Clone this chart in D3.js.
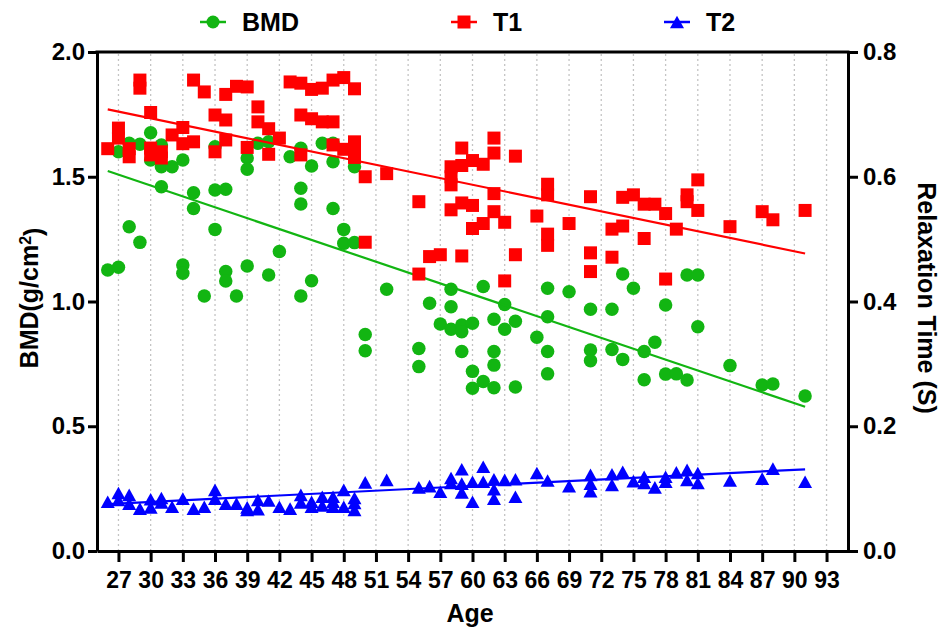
<!DOCTYPE html>
<html>
<head>
<meta charset="utf-8">
<script src="https://cdn.jsdelivr.net/npm/d3@7"></script>
<style>
  body { margin: 0; background: #fff; }
  svg { display: block; font-family: 'Liberation Sans', Arial, sans-serif; font-weight: bold; }
</style>
</head>
<body>
<div id="chart"></div>
<script>
// [age, BMD g/cm2]
const bmdPoints = [
  [26, 1.126], [27, 1.137], [27, 1.6], [28, 1.3], [28, 1.634], [29, 1.237], [29, 1.63],
  [30, 1.676], [30, 1.567], [31, 1.627], [31, 1.54], [31, 1.46], [32, 1.54],
  [33, 1.567], [33, 1.146], [33, 1.113], [34, 1.436], [34, 1.373], [35, 1.022],
  [36, 1.62], [36, 1.447], [36, 1.289], [37, 1.45], [37, 1.12], [37, 1.082], [38, 1.022],
  [39, 1.575], [39, 1.53], [39, 1.142], [40, 1.634], [41, 1.64], [41, 1.106], [42, 1.2],
  [43, 1.58], [44, 1.614], [44, 1.454], [44, 1.391], [44, 1.022], [45, 1.543], [45, 1.083],
  [46, 1.634], [47, 1.634], [47, 1.56], [47, 1.373], [48, 1.289], [48, 1.233], [49, 1.54], [49, 1.236],
  [50, 0.868], [50, 0.803], [52, 1.049], [55, 0.812], [55, 0.739], [56, 0.993], [57, 0.91],
  [58, 1.049], [58, 0.979], [58, 0.889], [59, 0.906], [59, 0.879], [59, 0.8],
  [60, 0.913], [60, 0.72], [60, 0.652], [61, 1.06], [61, 0.679],
  [62, 0.929], [62, 0.8], [62, 0.745], [62, 0.654], [63, 0.988], [63, 0.889], [64, 0.921], [64, 0.657],
  [66, 0.857], [67, 1.053], [67, 0.939], [67, 0.8], [67, 0.71], [69, 1.039],
  [71, 0.969], [71, 0.806], [71, 0.763], [73, 0.969], [73, 0.808], [74, 1.11], [74, 0.768], [75, 1.053],
  [76, 0.8], [76, 0.686], [77, 0.837], [78, 0.986], [78, 0.709], [79, 0.71], [80, 1.106], [80, 0.685],
  [81, 1.106], [81, 0.899], [84, 0.743], [87, 0.665], [88, 0.669], [91, 0.621],
];

// [age, T1 seconds]
const t1Points = [
  [26, 0.645], [27, 0.678], [27, 0.662], [28, 0.645], [28, 0.632], [29, 0.755], [29, 0.742],
  [30, 0.703], [30, 0.646], [30, 0.635], [31, 0.64], [31, 0.63], [32, 0.667], [33, 0.679], [33, 0.653],
  [34, 0.755], [34, 0.656], [35, 0.736], [36, 0.699], [36, 0.64], [37, 0.732], [37, 0.691], [37, 0.659],
  [38, 0.745], [39, 0.744], [39, 0.647], [40, 0.712], [40, 0.688], [41, 0.677], [41, 0.636], [42, 0.662],
  [43, 0.752], [44, 0.75], [44, 0.699], [44, 0.635], [45, 0.74], [45, 0.693], [46, 0.742], [46, 0.688],
  [47, 0.755], [47, 0.688], [47, 0.651], [48, 0.759], [48, 0.644],
  [49, 0.741], [49, 0.656], [49, 0.643], [49, 0.631],
  [50, 0.6], [50, 0.495], [52, 0.605], [55, 0.56], [55, 0.444], [56, 0.472], [57, 0.475],
  [58, 0.616], [58, 0.6], [58, 0.587], [58, 0.547], [59, 0.646], [59, 0.618], [59, 0.558], [59, 0.473],
  [60, 0.626], [60, 0.554], [60, 0.517], [61, 0.62], [61, 0.525],
  [62, 0.662], [62, 0.638], [62, 0.573], [62, 0.544],
  [63, 0.527], [63, 0.433], [64, 0.633], [64, 0.475], [66, 0.537],
  [67, 0.588], [67, 0.571], [67, 0.508], [67, 0.49],
  [69, 0.525], [71, 0.568], [71, 0.478], [71, 0.448], [73, 0.516], [73, 0.471],
  [74, 0.567], [74, 0.521], [75, 0.571],
  [76, 0.556], [76, 0.501], [77, 0.556], [78, 0.541], [78, 0.436], [79, 0.516], [80, 0.571], [80, 0.56],
  [81, 0.595], [81, 0.546], [84, 0.52], [87, 0.544], [88, 0.531], [91, 0.546],
];

// [age, T2 seconds]
const t2Points = [
  [26, 0.079], [27, 0.093], [27, 0.082], [28, 0.09], [28, 0.076], [29, 0.068],
  [30, 0.083], [30, 0.07], [31, 0.085], [31, 0.078], [32, 0.071], [33, 0.084], [34, 0.068], [35, 0.071],
  [36, 0.098], [36, 0.084], [37, 0.076], [38, 0.076], [39, 0.07], [39, 0.066], [40, 0.082], [40, 0.067],
  [41, 0.081], [42, 0.071], [43, 0.068], [44, 0.09], [44, 0.078], [45, 0.079], [45, 0.071],
  [46, 0.087], [46, 0.073], [47, 0.087], [47, 0.079], [47, 0.071], [48, 0.098], [48, 0.071],
  [49, 0.085], [49, 0.077], [49, 0.066], [50, 0.11], [52, 0.114], [55, 0.102], [56, 0.104], [57, 0.095],
  [58, 0.117], [58, 0.109], [59, 0.131], [59, 0.108], [59, 0.094], [60, 0.111], [60, 0.079],
  [61, 0.135], [61, 0.111], [62, 0.115], [62, 0.099], [62, 0.084], [63, 0.114], [64, 0.115], [64, 0.087],
  [66, 0.125], [67, 0.113], [69, 0.104], [71, 0.122], [71, 0.108], [71, 0.096], [73, 0.123], [73, 0.106],
  [74, 0.127], [75, 0.112], [76, 0.119], [76, 0.109], [77, 0.102], [78, 0.119], [78, 0.111], [79, 0.126],
  [80, 0.13], [80, 0.114], [81, 0.125], [81, 0.109], [84, 0.113], [87, 0.116], [88, 0.132], [91, 0.111],
];

// fitted lines, end points
const bmdFit = [[26, 1.523], [91, 0.578]];
const t1Fit = [[26, 0.708], [91, 0.477]];
const t2Fit = [[26, 0.0753], [91, 0.131]];

const ageTicks = [27, 30, 33, 36, 39, 42, 45, 48, 51, 54, 57, 60, 63, 66, 69, 72, 75, 78, 81, 84, 87, 90, 93];
const bmdTicks = [0, 0.5, 1, 1.5, 2];
const timeTicks = [0, 0.2, 0.4, 0.6, 0.8];
const legendLabels = ['BMD', 'T1', 'T2'];

const WIDTH = 940;
const HEIGHT = 628;
const GREEN = '#12b512';
const RED = '#ff0000';
const BLUE = '#0000ff';

const x = d3.scaleLinear().domain([25, 95]).range([97, 848]);
const yLeft = d3.scaleLinear().domain([0, 2]).range([551, 52]);
const yRight = d3.scaleLinear().domain([0, 0.8]).range([551, 52]);

// triangle centred on its bounding box
const triangle = {
  draw(context, size) {
    const w = size;
    const h = size * 0.9;
    context.moveTo(0, -h / 2);
    context.lineTo(w / 2, h / 2);
    context.lineTo(-w / 2, h / 2);
    context.closePath();
  },
};
const squareSym = {
  draw(context, size) {
    context.rect(-size / 2, -size / 2, size, size);
  },
};
const circleSym = {
  draw(context, size) {
    context.arc(0, 0, size / 2, 0, 2 * Math.PI);
  },
};

const svg = d3.create('svg').attr('width', WIDTH).attr('height', HEIGHT);

// dotted vertical grid
svg
  .append('g')
  .selectAll('line')
  .data(ageTicks)
  .join('line')
  .attr('x1', (d) => x(d))
  .attr('x2', (d) => x(d))
  .attr('y1', yLeft(0))
  .attr('y2', yLeft(2))
  .attr('stroke', '#c4c4c4')
  .attr('stroke-width', 1.3)
  .attr('stroke-dasharray', '2,3');

const line = (yScale) =>
  d3
    .line()
    .x((d) => x(d[0]))
    .y((d) => yScale(d[1]));

const drawSeries = (points, fit, yScale, symbolType, size, color) => {
  svg
    .append('g')
    .selectAll('path')
    .data(points)
    .join('path')
    .attr('d', d3.symbol().type(symbolType).size(size))
    .attr('transform', (d) => `translate(${x(d[0])}, ${yScale(d[1])})`)
    .attr('fill', color);

  svg
    .append('path')
    .attr('d', line(yScale)(fit))
    .attr('fill', 'none')
    .attr('stroke', color)
    .attr('stroke-width', 2.2);
};

drawSeries(bmdPoints, bmdFit, yLeft, circleSym, 13.5, GREEN);
drawSeries(t1Points, t1Fit, yRight, squareSym, 13, RED);
drawSeries(t2Points, t2Fit, yRight, triangle, 14, BLUE);

// axes
const styleAxis = (g, fontSize) => {
  g.selectAll('.domain').attr('stroke-width', 3).attr('stroke', '#000');
  g.selectAll('.tick line').attr('stroke-width', 3).attr('stroke', '#000');
  g.selectAll('.tick text')
    .attr('fill', '#000')
    .style('font-size', `${fontSize}px`)
    .style('font-family', "'Liberation Sans', Arial, sans-serif")
    .style('font-weight', 'bold');
};

svg
  .append('g')
  .attr('transform', `translate(0, ${yLeft(0)})`)
  .call(d3.axisBottom(x).tickValues(ageTicks).tickSize(11).tickSizeOuter(0).tickPadding(10))
  .call((g) => styleAxis(g, 23));

svg
  .append('g')
  .attr('transform', `translate(${x(25)}, 0)`)
  .call(
    d3.axisLeft(yLeft).tickValues(bmdTicks).tickFormat(d3.format('.1f'))
      .tickSize(9).tickSizeOuter(0).tickPadding(3)
  )
  .call((g) => styleAxis(g, 24));

svg
  .append('g')
  .attr('transform', `translate(${x(95)}, 0)`)
  .call(
    d3.axisRight(yRight).tickValues(timeTicks).tickFormat(d3.format('.1f'))
      .tickSize(10).tickSizeOuter(0).tickPadding(5)
  )
  .call((g) => styleAxis(g, 24));

// top frame
svg
  .append('line')
  .attr('x1', x(25) - 1.5)
  .attr('x2', x(95) + 1.5)
  .attr('y1', yLeft(2))
  .attr('y2', yLeft(2))
  .attr('stroke', '#000')
  .attr('stroke-width', 3);

// axis titles
svg
  .append('text')
  .attr('x', 470)
  .attr('y', 622)
  .attr('text-anchor', 'middle')
  .style('font-size', '25px')
  .text('Age');

const bmdTitle = svg
  .append('text')
  .attr('transform', 'translate(38, 298) rotate(-90)')
  .attr('text-anchor', 'middle')
  .style('font-size', '25px');
bmdTitle.append('tspan').text('BMD(g/cm');
bmdTitle.append('tspan').attr('dy', '-0.45em').style('font-size', '16px').text('2');
bmdTitle.append('tspan').attr('dy', '0.45em').text(')');

svg
  .append('text')
  .attr('transform', 'translate(918, 298) rotate(90)')
  .attr('text-anchor', 'middle')
  .style('font-size', '25px')
  .text('Relaxation Time (S)');

// legend
const legendItems = [
  { label: legendLabels[0], cx: 213, color: GREEN, type: circleSym, size: 13 },
  { label: legendLabels[1], cx: 464, color: RED, type: squareSym, size: 13 },
  { label: legendLabels[2], cx: 677, color: BLUE, type: triangle, size: 14 },
];

const legend = svg
  .append('g')
  .selectAll('g')
  .data(legendItems)
  .join('g')
  .attr('transform', (d) => `translate(${d.cx}, 22)`);

legend
  .append('line')
  .attr('x1', -13)
  .attr('x2', 13)
  .attr('stroke', (d) => d.color)
  .attr('stroke-width', 2.5);

legend
  .append('path')
  .attr('d', (d) => d3.symbol().type(d.type).size(d.size)())
  .attr('fill', (d) => d.color);

legend
  .append('text')
  .attr('x', 29)
  .attr('y', 9)
  .style('font-size', '25px')
  .text((d) => d.label);

document.getElementById('chart').appendChild(svg.node());
</script>
</body>
</html>
